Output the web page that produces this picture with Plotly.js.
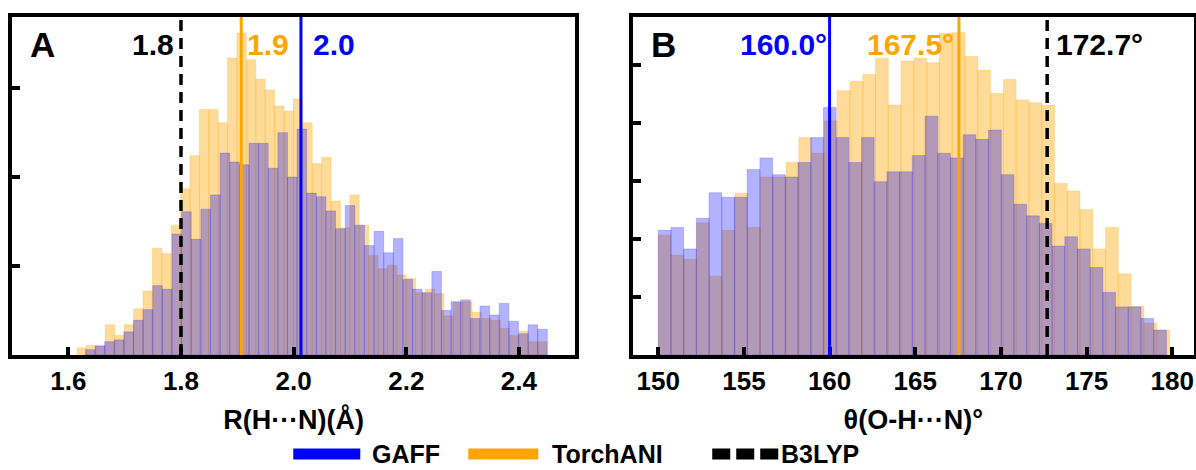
<!DOCTYPE html>
<html>
<head>
<meta charset="utf-8">
<script src="https://cdn.plot.ly/plotly-3.0.1.min.js"></script>
<style>
  html, body { margin: 0; padding: 0; background: #ffffff; }
  #chart { width: 1196px; height: 470px; }
</style>
</head>
<body>
<div id="chart"></div>
<script>
// ---------------- DATA ----------------
// Panel A: R(H...N) distance histograms (bin start, bin width, counts)
const rTorchBinStart = 1.6156;
const rTorchBinWidth = 0.016696;
const rTorchCounts = [8, 11, 11, 34, 22, 34, 52, 72, 120, 114,
                      146, 187, 224, 276, 276, 261, 334, 362, 332, 310,
                      298, 280, 274, 288, 261, 215, 222, 173, 143, 180,
                      146, 112, 97, 101, 90, 86, 70, 74, 69, 44,
                      59, 60, 48, 41, 39, 30, 22, 27, 15, 15];
const rGaffBinStart = 1.6303;
const rGaffBinWidth = 0.017085;
const rGaffCounts = [6, 10, 15, 17, 26, 39, 51, 78, 74, 136,
                     161, 130, 164, 180, 227, 217, 214, 238, 238, 210,
                     250, 200, 254, 182, 178, 162, 142, 168, 146, 123,
                     139, 115, 131, 85, 74, 70, 94, 50, 60, 62,
                     41, 55, 45, 58, 38, 24, 34, 29];

// Panel B: theta(O-H...N) angle histograms
const angTorchBinStart = 150.0;
const angTorchBinWidth = 0.746;
const angTorchCounts = [207, 172, 165, 228, 136, 215, 279, 220, 307, 307,
                        332, 375, 348, 404, 456, 472, 484, 512, 431, 507,
                        512, 504, 555, 556, 515, 491, 451, 475, 440, 435,
                        431, 296, 283, 251, 183, 220, 140, 84, 55, 43];
const angGaffBinStart = 150.0;
const angGaffBinWidth = 0.7415;
const angGaffCounts = [215, 220, 183, 236, 280, 272, 272, 320, 340, 311,
                       307, 332, 375, 427, 375, 332, 375, 299, 316, 316,
                       344, 412, 348, 340, 380, 372, 388, 311, 260, 240,
                       227, 188, 204, 183, 151, 108, 83, 83, 63, 43];

// Reference values (vertical lines) and their labels
const methodNames = ['GAFF', 'TorchANI', 'B3LYP'];
const rMarkValues = [2.013, 1.907, 1.800];
const rMarkLabels = ['2.0', '1.9', '1.8'];
const angMarkValues = [160.0, 167.55, 172.7];
const angMarkLabels = ['160.0°', '167.5°', '172.7°'];

// Axis ticks / titles
const rTickValues = [1.6, 1.8, 2.0, 2.2, 2.4];
const angTickValues = [150, 155, 160, 165, 170, 175, 180];
const rAxisTitle = 'R(H···N)(Å)';
const angAxisTitle = 'θ(O-H···N)°';
const panelLetters = ['A', 'B'];

// ---------------- STYLE ----------------
const FONT = 'Liberation Sans, Arial, Helvetica, sans-serif';
const W = 1196, H = 470;
const M = {l: 11.7, r: 2.2, t: 16.7, b: 115};
const PW = W - M.l - M.r, PH = H - M.t - M.b;
const pxX = X => (X - M.l) / PW;          // pixel -> paper x
const pxY = Y => (H - M.b - Y) / PH;      // pixel -> paper y

const methodColors = ['#0000FF', '#FFA500', '#000000'];
const methodDash = ['solid', 'solid', '11px,7px'];
const orangeFill = 'rgba(255,165,0,0.40)';
const blueFill = 'rgba(0,0,255,0.30)';

function centers(start, width, n) {
  const c = [];
  for (let i = 0; i < n; i++) c.push(start + width * (i + 0.5));
  return c;
}

function barTrace(start, width, counts, color, xa, ya) {
  return {
    type: 'bar',
    x: centers(start, width, counts.length),
    y: counts,
    width: width,
    marker: {color: color, line: {color: color, width: 0.6}},
    xaxis: xa, yaxis: ya,
    showlegend: false,
    hoverinfo: 'skip'
  };
}

const traces = [
  barTrace(rTorchBinStart, rTorchBinWidth, rTorchCounts, orangeFill, 'x', 'y'),
  barTrace(rGaffBinStart, rGaffBinWidth, rGaffCounts, blueFill, 'x', 'y'),
  barTrace(angTorchBinStart, angTorchBinWidth, angTorchCounts, orangeFill, 'x2', 'y2'),
  barTrace(angGaffBinStart, angGaffBinWidth, angGaffCounts, blueFill, 'x2', 'y2')
];

const shapes = [];
const annotations = [];

function addMarks(values, labels, xa, ya, placement) {
  values.forEach((v, i) => {
    shapes.push({
      type: 'line', xref: xa, yref: ya + ' domain',
      x0: v, x1: v, y0: 0, y1: 1, layer: 'above',
      line: {color: methodColors[i], width: i === 2 ? 3.5 : 3, dash: methodDash[i]}
    });
    annotations.push({
      xref: xa, yref: ya + ' domain', x: v, y: 0.92,
      text: labels[i], showarrow: false,
      xanchor: placement[i].anchor, xshift: placement[i].shift, yanchor: 'middle',
      font: {family: FONT, size: 30, weight: 'bold', color: methodColors[i]}
    });
  });
}

addMarks(rMarkValues, rMarkLabels, 'x', 'y', [
  {anchor: 'left', shift: 10}, {anchor: 'left', shift: 4}, {anchor: 'right', shift: -5}
]);
addMarks(angMarkValues, angMarkLabels, 'x2', 'y2', [
  {anchor: 'right', shift: -1}, {anchor: 'right', shift: -3}, {anchor: 'left', shift: 7}
]);

// panel letters
annotations.push({xref: 'x domain', yref: 'y domain', x: 0.028, y: 0.92, text: panelLetters[0],
  showarrow: false, xanchor: 'left', yanchor: 'middle',
  font: {family: FONT, size: 35, weight: 'bold', color: '#000'}});
annotations.push({xref: 'x2 domain', yref: 'y2 domain', x: 0.030, y: 0.92, text: panelLetters[1],
  showarrow: false, xanchor: 'left', yanchor: 'middle',
  font: {family: FONT, size: 35, weight: 'bold', color: '#000'}});

// manual legend (bottom centre)
const legendY = 454;
const legendItems = [
  {x0: 293, x1: 360, tx: 370},
  {x0: 468, x1: 538, tx: 550},
  {x0: 712, x1: 778, tx: 779}
];
legendItems.forEach((it, i) => {
  shapes.push({
    type: 'line', xref: 'paper', yref: 'paper',
    x0: pxX(it.x0), x1: pxX(it.x1), y0: pxY(legendY), y1: pxY(legendY),
    line: {color: methodColors[i], width: 11, dash: i === 2 ? '18px,6px' : 'solid'}
  });
  annotations.push({
    xref: 'paper', yref: 'paper', x: pxX(it.tx), y: pxY(legendY),
    text: methodNames[i], showarrow: false, xanchor: 'left', yanchor: 'middle',
    font: {family: FONT, size: 25, weight: 'bold', color: '#000'}
  });
});

const axisCommon = {
  showline: true, linewidth: 4, linecolor: '#000', mirror: true,
  ticks: 'inside', ticklen: 8, tickwidth: 4, tickcolor: '#000',
  showgrid: false, zeroline: false, fixedrange: true
};
const tickFont = {family: FONT, size: 26, weight: 'bold', color: '#000'};
const titleFont = {family: FONT, size: 27, weight: 'bold', color: '#000'};

const layout = {
  width: W, height: H,
  margin: M,
  paper_bgcolor: '#fff', plot_bgcolor: '#fff',
  barmode: 'overlay', bargap: 0,
  showlegend: false,
  xaxis: Object.assign({}, axisCommon, {
    domain: [0, pxX(575) ], range: [1.5, 2.5], anchor: 'y',
    tickvals: rTickValues, tickformat: '.1f', tickfont: tickFont,
    title: {text: rAxisTitle, font: titleFont, standoff: 16}
  }),
  yaxis: Object.assign({}, axisCommon, {
    domain: [0, 1], range: [0, 380], anchor: 'x',
    tickvals: [100, 200, 300], showticklabels: false
  }),
  xaxis2: Object.assign({}, axisCommon, {
    domain: [pxX(632.3), 1], range: [148.5, 181.27], anchor: 'y2',
    tickvals: angTickValues, tickfont: tickFont,
    title: {text: angAxisTitle, font: titleFont, standoff: 16}
  }),
  yaxis2: Object.assign({}, axisCommon, {
    domain: [0, 1], range: [0, 583], anchor: 'x2',
    tickvals: [100, 200, 300, 400, 500], showticklabels: false
  }),
  shapes: shapes,
  annotations: annotations
};

Plotly.newPlot('chart', traces, layout, {displayModeBar: false, staticPlot: true});
</script>
</body>
</html>
